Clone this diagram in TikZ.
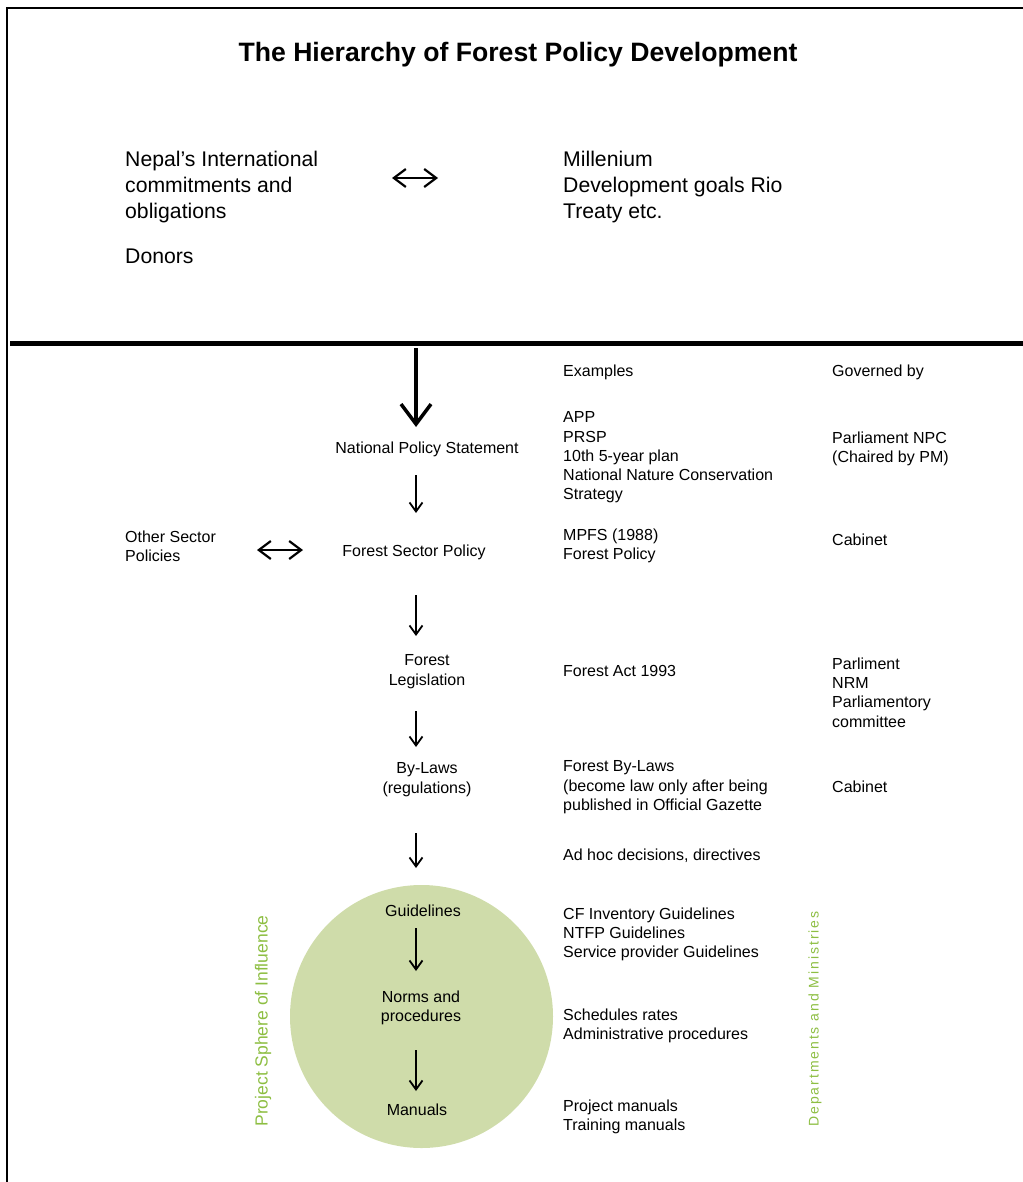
\documentclass[tikz,border=0pt]{standalone}
\usepackage{fontspec}
\setmainfont{Liberation Sans}
\usetikzlibrary{arrows.meta}
\definecolor{circlegreen}{RGB}{207,220,170}
\definecolor{labelgreen}{RGB}{141,190,66}
\tikzset{
  txt/.style={inner sep=0, font=\fontsize{16}{19.3}\selectfont},
  bigtxt/.style={inner sep=0, font=\fontsize{21.2}{26}\selectfont},
  down/.style={line width=1.8, -{Straight Barb[length=9, width=13]}},
  both/.style={line width=2.2, {Straight Barb[length=12, width=18]}-{Straight Barb[length=12, width=18]}},
}
\begin{document}
\begin{tikzpicture}[x=1pt, y=-1pt]
\useasboundingbox (0, 0) rectangle (1022, 1182);
% frame and separator
\draw [line width=2.5] (7, 1185) -- (7, 8) -- (1025, 8);
\draw [line width=5] (10, 343) -- (1025, 343);
\node at (518, 62) [anchor=base, inner sep=0, font=\fontsize{26.6}{30}\selectfont\bfseries] (title) {The Hierarchy of Forest Policy Development};

% international level
\node at (125, 150.5) [bigtxt, anchor=north west, align=left] (intl) {Nepal’s International\\commitments and\\obligations};
\node at (125, 263.5) [bigtxt, anchor=base west] (donors) {Donors};
\node at (563, 150.5) [bigtxt, anchor=north west, align=left] (mdg) {Millenium\\Development goals Rio\\Treaty etc.};
\coordinate (d1l) at (392, 178);
\coordinate (d1r) at (438, 178);
\draw [both] (d1l) to (d1r);

% column heads
\node at (563, 376.5) [txt, anchor=base west] (examples) {Examples};
\node at (832, 376.5) [txt, anchor=base west] (governed) {Governed by};

% main hierarchy
\coordinate (top) at (416, 348);
\coordinate (topend) at (416, 427);
\draw [line width=3.5, -{Straight Barb[length=20, width=30]}] (top) to (topend);

\node at (427, 453.5) [txt, anchor=base] (nps) {National Policy Statement};
\node at (563, 411.5) [txt, anchor=north west, align=left] (npsex) {APP\\PRSP\\10th 5-year plan\\National Nature Conservation\\Strategy};
\node at (832, 431.5) [txt, anchor=north west, align=left] (npsgov) {Parliament NPC\\(Chaired by PM)};
\coordinate (a1s) at (416, 475);
\coordinate (a1e) at (416, 513);
\draw [down] (a1s) to (a1e);

\node at (125, 530.5) [txt, anchor=north west, align=left] (other) {Other Sector\\Policies};
\coordinate (d2l) at (257, 550);
\coordinate (d2r) at (303, 550);
\draw [both] (d2l) to (d2r);
\node at (414, 556.5) [txt, anchor=base] (fsp) {Forest Sector Policy};
\node at (563, 528.5) [txt, anchor=north west, align=left] (fspex) {MPFS (1988)\\Forest Policy};
\node at (832, 545.5) [txt, anchor=base west] (fspgov) {Cabinet};
\coordinate (a2s) at (416, 595);
\coordinate (a2e) at (416, 636);
\draw [down] (a2s) to (a2e);

\node at (427, 654.5) [txt, anchor=north, align=center] (leg) {Forest\\Legislation};
\node at (563, 676.5) [txt, anchor=base west] (legex) {Forest Act 1993};
\node at (832, 657.5) [txt, anchor=north west, align=left] (leggov) {Parliment\\NRM\\Parliamentory\\committee};
\coordinate (a3s) at (416, 711);
\coordinate (a3e) at (416, 747);
\draw [down] (a3s) to (a3e);

\node at (427, 762.5) [txt, anchor=north, align=center] (bylaws) {By-Laws\\(regulations)};
\node at (563, 760.5) [txt, anchor=north west, align=left] (bylawsex) {Forest By-Laws\\(become law only after being\\published in Official Gazette};
\node at (832, 792.5) [txt, anchor=base west] (bylawsgov) {Cabinet};
\coordinate (a4s) at (416, 833);
\coordinate (a4e) at (416, 868);
\draw [down] (a4s) to (a4e);
\node at (563, 860.5) [txt, anchor=base west] (adhoc) {Ad hoc decisions, directives};

% project sphere
\node at (421.5, 1016.5) [circle, fill=circlegreen, minimum size=263, inner sep=0] (sphere) {};
\node at (423, 916.5) [txt, anchor=base] (guide) {Guidelines};
\node at (563, 907.5) [txt, anchor=north west, align=left] (guideex) {CF Inventory Guidelines\\NTFP Guidelines\\Service provider Guidelines};
\coordinate (a5s) at (416, 928);
\coordinate (a5e) at (416, 971);
\draw [down] (a5s) to (a5e);
\node at (421, 990.5) [txt, anchor=north, align=center] (norms) {Norms and\\procedures};
\node at (563, 1008.5) [txt, anchor=north west, align=left] (normsex) {Schedules rates\\Administrative procedures};
\coordinate (a6s) at (416, 1050);
\coordinate (a6e) at (416, 1091);
\draw [down] (a6s) to (a6e);
\node at (417, 1115.5) [txt, anchor=base] (manuals) {Manuals};
\node at (563, 1099.5) [txt, anchor=north west, align=left] (manualsex) {Project manuals\\Training manuals};

\node at (263, 1021) [rotate=90, inner sep=0, text=labelgreen, font=\fontsize{17.5}{20}\selectfont] (psi) {Project Sphere of Influence};
\node at (815, 1019) [rotate=90, inner sep=0, text=labelgreen, font=\fontsize{14}{16}\selectfont\addfontfeature{LetterSpace=14}] (depts) {Departments and Ministries};
\end{tikzpicture}
\end{document}
